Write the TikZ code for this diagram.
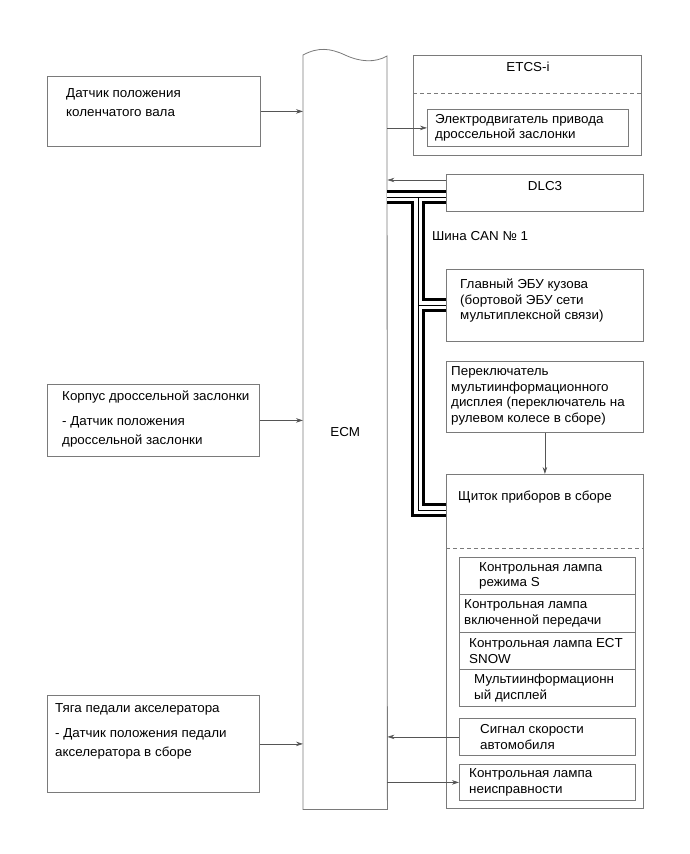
\documentclass[tikz,border=0pt]{standalone}
\usepackage{fontspec}
\setmainfont{Liberation Sans}[FakeStretch=1.03]
\usetikzlibrary{arrows.meta}
\definecolor{boxgray}{HTML}{7A7A7A}
\definecolor{arrgray}{HTML}{555555}

\begin{document}
\begin{tikzpicture}[x=1pt, y=-1pt,
    box/.style={draw=boxgray, line width=0.8pt, rectangle, anchor=north west, inner sep=0pt},
    txt/.style={anchor=west, align=left, inner sep=0pt, font=\fontsize{13}{15.5}\selectfont},
    txtl/.style={txt, font=\fontsize{13}{19}\selectfont},
    arr/.style={draw=arrgray, line width=0.7pt, -{Stealth[length=7pt, width=4.5pt]}},
    sepline/.style={draw=boxgray, line width=0.7pt, dash pattern=on 4pt off 3pt}]
    % Canvas
    \useasboundingbox (0,0) rectangle (690,854);

    % ECM column
    \node[anchor=north west, minimum width=84pt, minimum height=754pt, inner sep=0pt,
          font=\fontsize{13}{15}\selectfont] (ecm) at (303,55) {ECM};
    \draw[boxgray, line width=0.8pt] (ecm.south west) -- (ecm.north west)
        .. controls (318,47) and (330,48) .. (345,55)
        .. controls (360,62) and (375,63) .. (387,56) -- (ecm.south east) -- cycle;

    % Inputs on the left
    \node[box, minimum width=213pt, minimum height=70pt] (crank) at (47,76) {};
    \node[txtl] (crank-t) at (66,102.5) {Датчик положения\\коленчатого вала};
    \node[box, minimum width=212pt, minimum height=72pt] (throttle) at (47,384) {};
    \node[txtl] (throttle-t) at (62,419) {Корпус дроссельной заслонки\\[6pt]- Датчик положения\\дроссельной заслонки};
    \node[box, minimum width=212pt, minimum height=97pt] (accel) at (47,695) {};
    \node[txtl] (accel-t) at (55,731) {Тяга педали акселератора\\[6pt]- Датчик положения педали\\акселератора в сборе};

    % ETCS-i
    \node[box, minimum width=228pt, minimum height=100pt] (etcs) at (413,55) {};
    \node[txt, anchor=center] (etcs-t) at (528,67) {ETCS-i};
    \draw[sepline] (etcs.west |- 0,93) -- (etcs.east |- 0,93);
    \node[box, minimum width=201pt, minimum height=37pt] (motor) at (427,109) {};
    \node[txt] (motor-t) at (435,128) {Электродвигатель привода\\дроссельной заслонки};

    % DLC3 and bus members
    \node[box, minimum width=197pt, minimum height=37pt] (dlc) at (446,174) {};
    \node[txt, anchor=center] (dlc-t) at (545,186) {DLC3};
    \node[txt] (can-t) at (432,236) {Шина CAN № 1};
    \node[box, minimum width=197pt, minimum height=72pt] (bcm) at (446,269) {};
    \node[txt] (bcm-t) at (460,301) {Главный ЭБУ кузова\\(бортовой ЭБУ сети\\мультиплексной связи)};
    \node[box, minimum width=197pt, minimum height=71pt] (switch) at (446,361) {};
    \node[txt] (switch-t) at (451,396) {Переключатель\\мультиинформационного\\дисплея (переключатель на\\рулевом колесе в сборе)};

    % Combination meter
    \node[box, minimum width=197pt, minimum height=334pt] (cluster) at (446,474) {};
    \node[txt] (cluster-t) at (458,497) {Щиток приборов в сборе};
    \draw[sepline] (cluster.west |- 0,548) -- (cluster.east |- 0,548);
    \foreach \name/\top/\h/\tx/\label in {
        lamps/557/37/479/{Контрольная лампа\\режима S},
        gear/594/38/464/{Контрольная лампа\\включенной передачи},
        snow/632/37/469/{Контрольная лампа ECT\\SNOW},
        mfd/669/37/474/{Мультиинформационн\\ый дисплей},
        speed/718/37/480/{Сигнал скорости\\автомобиля},
        mil/764/36/469/{Контрольная лампа\\неисправности}} {
            \node[box, minimum width=176pt, minimum height=\h pt] (\name) at (459,\top) {};
            \node[txt] (\name-t) at (\tx,\top+\h/2+0.5) {\label};
        }

    % CAN No. 1 bus (black - white - thin centre line)
    \coordinate (busecm) at (387,197);
    \coordinate (busj) at (418,197);
    \coordinate (busbcm) at (418,305);
    \coordinate (busend) at (418,510);
    \foreach \w/\c in {14pt/black, 8pt/white, 0.8pt/black} {
            \draw[line width=\w, \c] (busecm) -- (busecm -| dlc.west)
                (busj) -- (busend) -- (busend -| cluster.west)
                (busbcm) -- (busbcm -| bcm.west);
        }

    % Signal lines
    \coordinate (dlcout) at ([yshift=-6pt]dlc.north west);
    \draw[arr] (crank.east) -- (crank.east -| ecm.west);
    \draw[arr] (throttle.east) -- (throttle.east -| ecm.west);
    \draw[arr] (accel.east) -- (accel.east -| ecm.west);
    \draw[arr] (motor.west -| ecm.east) -- (motor.west);
    \draw[arr] (dlcout) -- (dlcout -| ecm.east);
    \draw[arr] (switch.south) -- (switch.south |- cluster.north);
    \draw[arr] (speed.west) -- (speed.west -| ecm.east);
    \draw[arr] (mil.west -| ecm.east) -- (mil.west);
\end{tikzpicture}
\end{document}
